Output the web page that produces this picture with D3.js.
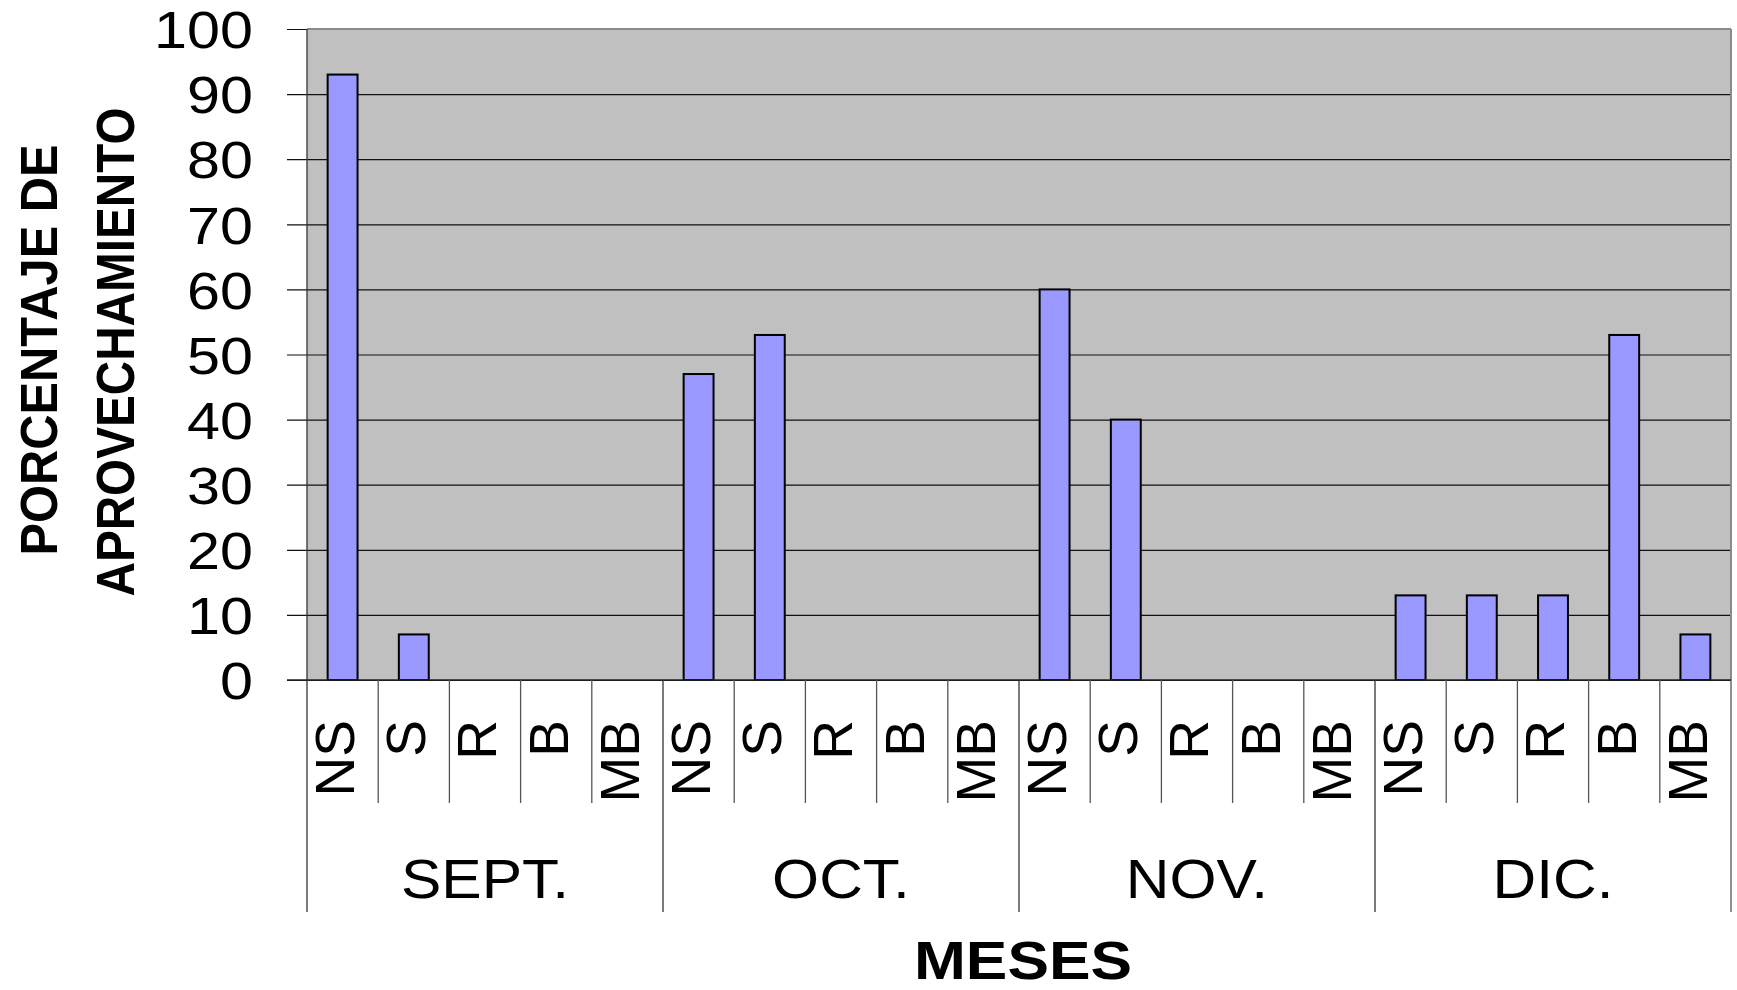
<!DOCTYPE html>
<html>
<head>
<meta charset="utf-8">
<script src="https://cdn.jsdelivr.net/npm/d3@7"></script>
<style>
  body { margin: 0; background: #fff; }
  text { font-family: "Liberation Sans", Arial, sans-serif; fill: #000; }
</style>
</head>
<body>
<svg id="chart" width="1737" height="990"></svg>
<script>
// data
const months = ["SEPT.", "OCT.", "NOV.", "DIC."];
const categories = ["NS", "S", "R", "B", "MB"];
const septValues = [93, 7, 0, 0, 0];
const octValues = [47, 53, 0, 0, 0];
const novValues = [60, 40, 0, 0, 0];
const dicValues = [13, 13, 13, 53, 7];
const yTicks = [0, 10, 20, 30, 40, 50, 60, 70, 80, 90, 100];

const monthValues = [septValues, octValues, novValues, dicValues];

let svg = d3.select("#chart");

let plot = { left: 307, right: 1731, top: 29, bottom: 680 };

// flat list of bars, one per month/category
let rows = [];
months.forEach((m, i) => {
    categories.forEach((c, j) => {
        rows.push({ key: m + "|" + c, month: m, cat: c, value: monthValues[i][j] });
    });
});

// Setup scales.
let xScale = d3.scaleBand()
    .domain(rows.map(d => d.key))
    .range([plot.left, plot.right])
    .padding(0);

let yScale = d3.scaleLinear()
    .domain([0, 100])
    .range([plot.bottom, plot.top]);

let band = xScale.bandwidth();
let barW = band * 0.42;

// plot background
svg.append("rect")
    .attr("x", plot.left)
    .attr("y", plot.top)
    .attr("width", plot.right - plot.left)
    .attr("height", plot.bottom - plot.top)
    .attr("fill", "#c0c0c0");

// gridlines + tick marks + labels, all from one axis anchored at the right edge
let gridLen = plot.right - 287;
let yAxis = svg.append("g")
    .attr("transform", "translate(" + plot.right + ",0)")
    .call(d3.axisLeft(yScale).tickValues(yTicks).tickSize(gridLen).tickPadding(0));

yAxis.select(".domain").remove();
yAxis.selectAll(".tick line")
    .attr("stroke", "#111")
    .attr("stroke-width", 1.2);
yAxis.selectAll(".tick text")
    .attr("x", 0)
    .attr("dy", "0.36em")
    .attr("transform", "translate(" + (-(plot.right - 253)) + ",0) scale(1.14,1)")
    .style("font-size", "52px");

// plot border (top / right grey)
svg.append("line")
    .attr("x1", plot.left).attr("x2", plot.right)
    .attr("y1", plot.top).attr("y2", plot.top)
    .attr("stroke", "#8a8a8a").attr("stroke-width", 2);
svg.append("line")
    .attr("x1", plot.right).attr("x2", plot.right)
    .attr("y1", plot.top).attr("y2", plot.bottom)
    .attr("stroke", "#8a8a8a").attr("stroke-width", 2);

// left axis line
svg.append("line")
    .attr("x1", plot.left).attr("x2", plot.left)
    .attr("y1", plot.top).attr("y2", plot.bottom)
    .attr("stroke", "#333").attr("stroke-width", 1.3);

// bars
svg.selectAll("rect.bar")
    .data(rows.filter(d => d.value > 0))
    .enter()
    .append("rect")
    .attr("class", "bar")
    .attr("x", d => xScale(d.key) + (band - barW) / 2)
    .attr("y", d => yScale(d.value))
    .attr("width", barW)
    .attr("height", d => yScale(0) - yScale(d.value))
    .attr("fill", "#9999ff")
    .attr("stroke", "#000")
    .attr("stroke-width", 2);

// zero line
svg.append("line")
    .attr("x1", 287).attr("x2", plot.right)
    .attr("y1", yScale(0)).attr("y2", yScale(0))
    .attr("stroke", "#222").attr("stroke-width", 1.6);

// category dividers below the axis
rows.forEach((d, i) => {
    let x = xScale(d.key);
    let isMonthStart = i % categories.length == 0;
    svg.append("line")
        .attr("x1", x).attr("x2", x)
        .attr("y1", plot.bottom)
        .attr("y2", isMonthStart ? 912 : 803)
        .attr("stroke", isMonthStart ? "#333" : "#555")
        .attr("stroke-width", 1.3);
});
svg.append("line")
    .attr("x1", plot.right).attr("x2", plot.right)
    .attr("y1", plot.bottom).attr("y2", 912)
    .attr("stroke", "#555").attr("stroke-width", 1.3);

// category labels, rotated
svg.selectAll("text.cat")
    .data(rows)
    .enter()
    .append("text")
    .attr("class", "cat")
    .attr("transform", d => "translate(" + (xScale(d.key) + 47) + ",720) rotate(-90)")
    .style("text-anchor", "end")
    .style("font-size", "55px")
    .text(d => d.cat);

// month labels
months.forEach(m => {
    let x0 = xScale(m + "|" + categories[0]);
    let x1 = xScale(m + "|" + categories[categories.length - 1]) + band;
    let t = svg.append("text")
        .attr("x", (x0 + x1) / 2)
        .attr("y", 898)
        .style("text-anchor", "middle")
        .style("font-size", "55px")
        .text(m);
    let w = t.node().getComputedTextLength();
    t.attr("textLength", w * 1.1).attr("lengthAdjust", "spacingAndGlyphs");
});

// axis titles
svg.append("text")
    .attr("x", 1023)
    .attr("y", 979)
    .style("text-anchor", "middle")
    .style("font-size", "53px")
    .style("font-weight", "bold")
    .attr("textLength", 218)
    .attr("lengthAdjust", "spacingAndGlyphs")
    .text("MESES");

svg.append("text")
    .attr("transform", "translate(57,350) rotate(-90)")
    .style("text-anchor", "middle")
    .style("font-size", "51px")
    .style("font-weight", "bold")
    .attr("textLength", 411)
    .attr("lengthAdjust", "spacingAndGlyphs")
    .text("PORCENTAJE DE");

svg.append("text")
    .attr("transform", "translate(134,352) rotate(-90)")
    .style("text-anchor", "middle")
    .style("font-size", "54px")
    .style("font-weight", "bold")
    .attr("textLength", 489)
    .attr("lengthAdjust", "spacingAndGlyphs")
    .text("APROVECHAMIENTO");
</script>
</body>
</html>
